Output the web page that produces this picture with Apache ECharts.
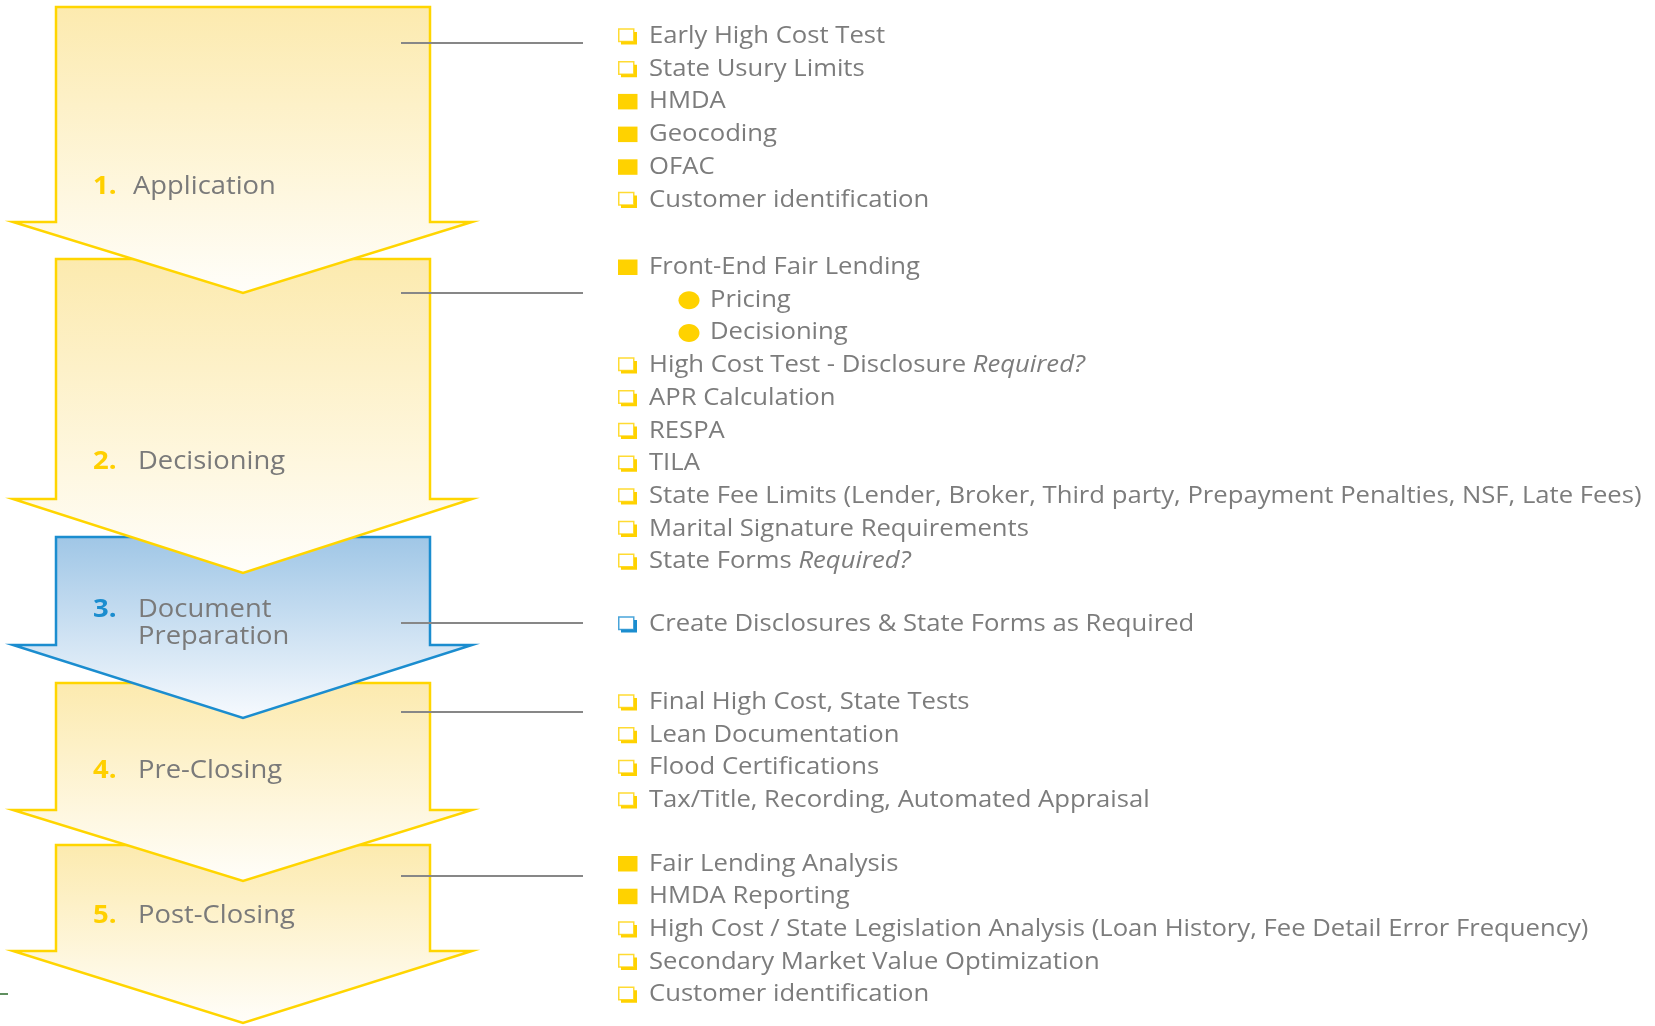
<!DOCTYPE html>
<html><head><meta charset="utf-8">
<script src="https://cdn.jsdelivr.net/npm/echarts@6/dist/echarts.min.js"></script>
<style>html,body{margin:0;padding:0;background:#fff}#c{width:1655px;height:1026px}</style>
</head><body><div id="c"></div>
<script>
// ---------- content ----------
const stageNumbers = ['1.', '2.', '3.', '4.', '5.'];
const stageNames = ['Application', 'Decisioning', 'Document\nPreparation', 'Pre-Closing', 'Post-Closing'];
const stageThemes = ['yellow', 'yellow', 'blue', 'yellow', 'yellow'];

const applicationItems = ['Early High Cost Test', 'State Usury Limits', 'HMDA', 'Geocoding', 'OFAC', 'Customer identification'];
const applicationIcons = ['box', 'box', 'square', 'square', 'square', 'box'];
const decisioningItems = ['Front-End Fair Lending', 'Pricing', 'Decisioning', 'High Cost Test - Disclosure {it|Required?}', 'APR Calculation', 'RESPA', 'TILA', 'State Fee Limits (Lender, Broker, Third party, Prepayment Penalties, NSF, Late Fees)', 'Marital Signature Requirements', 'State Forms {it|Required?}'];
const decisioningIcons = ['square', 'dot', 'dot', 'box', 'box', 'box', 'box', 'box', 'box', 'box'];
const docPrepItems = ['Create Disclosures & State Forms as Required'];
const docPrepIcons = ['box'];
const preClosingItems = ['Final High Cost, State Tests', 'Lean Documentation', 'Flood Certifications', 'Tax/Title, Recording, Automated Appraisal'];
const preClosingIcons = ['box', 'box', 'box', 'box'];
const postClosingItems = ['Fair Lending Analysis', 'HMDA Reporting', 'High Cost / State Legislation Analysis (Loan History, Fee Detail Error Frequency)', 'Secondary Market Value Optimization', 'Customer identification'];
const postClosingIcons = ['square', 'square', 'box', 'box', 'box'];

// ---------- layout & style ----------
const L = {
  rectL: 56, rectR: 430, wingL: 13, wingR: 472, tipX: 243,
  top:  [7, 259, 537, 683, 845],
  wing: [222, 499, 645, 810, 951],
  tip:  [293, 573, 718, 881, 1023],
  link: [43, 293, 623, 712, 876],
  label:[187, 462, 623, 771, 916],
  numX: 93, nameX: [133, 138, 138, 138, 138],
  listStart: [36.5, 267.5, 624.5, 702.5, 864],
  rowGap: 32.7,
  linkX0: 401, linkX1: 583,
  iconX: 618, textX: 649, subIconX: 689, subTextX: 710
};
const THEMES = {
  yellow: { top: '#FCEAAE', bottom: '#FFFEFA', stroke: '#FFD500', num: '#FFD000', icon: '#FFD200' },
  blue:   { top: '#9FC6E6', bottom: '#F7FAFE', stroke: '#1B8DCF', num: '#1B8DCF', icon: '#1B8DCF' }
};
const FONT = '"Open Sans", "Noto Sans", sans-serif';
const TEXT_COLOR = '#7c7c7c';
const LIST_SIZE = 23, LIST_SCALE = 1.115;
const LABEL_SIZE = 25, LABEL_SCALE = 1.095;
const NUM_SIZE = 25, NUM_SCALE = 1.1;

const groupItems = [applicationItems, decisioningItems, docPrepItems, preClosingItems, postClosingItems];
const groupIcons = [applicationIcons, decisioningIcons, docPrepIcons, preClosingIcons, postClosingIcons];
const listData = [];
groupItems.forEach((items, g) => items.forEach((t, k) => listData.push([g, k])));

const chart = echarts.init(document.getElementById('c'), null, { renderer: 'canvas' });

function renderArrow(params, api) {
  const i = api.value(0);
  const c = (x, y) => api.coord([x, y]);
  const th = THEMES[stageThemes[i]];
  const pts = [[L.rectL, L.top[i]], [L.rectR, L.top[i]], [L.rectR, L.wing[i]], [L.wingR, L.wing[i]],
               [L.tipX, L.tip[i]], [L.wingL, L.wing[i]], [L.rectL, L.wing[i]]].map(p => c(p[0], p[1]));
  const a = c(L.linkX0, L.link[i]), b = c(L.linkX1, L.link[i]);
  const np = c(L.numX, L.label[i]), tp = c(L.nameX[i], L.label[i]);
  return {
    type: 'group',
    children: [
      { type: 'polygon', shape: { points: pts },
        style: { fill: new echarts.graphic.LinearGradient(0, 0, 0, 1, [{ offset: 0, color: th.top }, { offset: 1, color: th.bottom }]),
                 stroke: th.stroke, lineWidth: 2.5, lineJoin: 'miter' } },
      { type: 'line', shape: { x1: a[0], y1: a[1], x2: b[0], y2: b[1] }, style: { stroke: '#878787', lineWidth: 2 } },
      { type: 'text', x: np[0], y: np[1] - (i === 2 ? 13 : 0), scaleX: NUM_SCALE,
        style: { text: stageNumbers[i], fill: th.num, font: 'bold ' + NUM_SIZE + 'px ' + FONT, verticalAlign: 'middle', align: 'left' } },
      { type: 'text', x: tp[0], y: tp[1], scaleX: LABEL_SCALE,
        style: { text: stageNames[i], fill: '#7a7a7a', font: LABEL_SIZE + 'px ' + FONT, verticalAlign: 'middle', align: 'left', lineHeight: 27 } }
    ]
  };
}

function renderItem(params, api) {
  const g = api.value(0), k = api.value(1);
  const icon = groupIcons[g][k];
  const th = THEMES[stageThemes[g]];
  const y = L.listStart[g] + k * L.rowGap;
  const ip = api.coord([icon === 'dot' ? L.subIconX : L.iconX, y]);
  const tp = api.coord([icon === 'dot' ? L.subTextX : L.textX, y]);
  let iconEls;
  if (icon === 'square') {
    iconEls = [{ type: 'rect', shape: { x: ip[0], y: ip[1] - 8, width: 19.5, height: 15.5 }, style: { fill: th.icon } }];
  } else if (icon === 'dot') {
    iconEls = [{ type: 'ellipse', shape: { cx: ip[0], cy: ip[1], rx: 10.5, ry: 9 }, style: { fill: th.icon } }];
  } else {
    iconEls = [
      { type: 'rect', shape: { x: ip[0] + 0.75, y: ip[1] - 7.5, width: 15, height: 12.5 }, style: { fill: 'none', stroke: th.icon, lineWidth: 1.5, opacity: 0.8 } },
      { type: 'polyline', shape: { points: [[ip[0] + 3, ip[1] + 6.5], [ip[0] + 17.5, ip[1] + 6.5], [ip[0] + 17.5, ip[1] - 4.5]] }, style: { fill: 'none', stroke: th.icon, lineWidth: 3 } }
    ];
  }
  return {
    type: 'group',
    children: iconEls.concat([{
      type: 'text', x: tp[0], y: tp[1], scaleX: LIST_SCALE,
      style: { text: groupItems[g][k], fill: TEXT_COLOR, font: LIST_SIZE + 'px ' + FONT, verticalAlign: 'middle', align: 'left',
               rich: { it: { fontStyle: 'italic', fontSize: LIST_SIZE, fontFamily: FONT, fill: TEXT_COLOR } } }
    }])
  };
}

chart.setOption({
  backgroundColor: '#ffffff',
  animation: false,
  grid: { left: 0, right: 0, top: 0, bottom: 0 },
  xAxis: { type: 'value', min: 0, max: 1655, show: false },
  yAxis: { type: 'value', min: 0, max: 1026, inverse: true, show: false },
  series: [
    { type: 'custom', renderItem: renderArrow, data: [[4], [3], [2], [1], [0]], clip: false, silent: true },
    { type: 'custom', renderItem: renderItem, data: listData, clip: false, silent: true }
  ],
  graphic: [{ type: 'line', shape: { x1: 0, y1: 994, x2: 8, y2: 994 }, style: { stroke: '#2a6a2a', lineWidth: 1.5 } }]
});
</script></body></html>
